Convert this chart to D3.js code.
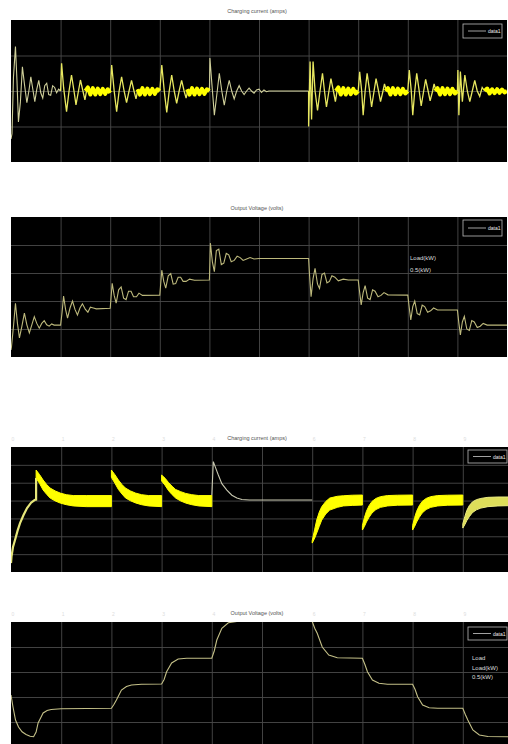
<!DOCTYPE html>
<html>
<head>
<meta charset="utf-8">
<script src="https://cdn.jsdelivr.net/npm/d3@7"></script>
<style>
body { margin: 0; background: #fff; }
svg { display: block; font-family: "Liberation Sans", Arial, sans-serif; }
</style>
</head>
<body>
<div id="frame"></div>
<script>
// ---- data (time in grid divisions, values in y grid divisions) ----
const xTicks = [1, 2, 3, 4, 5, 6, 7, 8, 9];
const topTickValues = [0, 1, 2, 3, 4, 6, 7, 8, 9];
const topTickLabels = ["0", "1", "2", "3", "4", "6", "7", "8", "9"];
const titles = ["Charging current (amps)", "Output Voltage (volts)", "Charging current (amps)", "Output Voltage (volts)"];
const legendLabel = "data1";
const notes2 = ["Load(kW)", "0.5(kW)"];
const notes4 = ["Load", "Load(kW)", "0.5(kW)"];

// panel 1: charging current, ringing parts (pale)
const p1RingPale = [
  [[0, -1.35], [0.02, -1.2], [0.05, 0.4], [0.09, 1.25], [0.12, 0.3], [0.15, -0.87], [0.19, -0.3], [0.23, 0.68], [0.27, 0.2],
   [0.32, -0.33], [0.36, 0.0], [0.4, 0.4], [0.44, 0.05], [0.48, -0.3], [0.52, 0.05], [0.56, 0.3], [0.6, -0.05], [0.64, -0.2],
   [0.68, 0.15], [0.72, 0.22], [0.76, -0.1], [0.8, -0.12], [0.84, 0.15], [0.88, 0.1], [0.92, -0.05], [0.96, 0.05], [1.0, 0.0]],
  [[4.0, 0.0], [4.01, 0.93], [4.05, 0.2], [4.1, -0.68], [4.15, -0.1], [4.2, 0.5], [4.25, 0.0], [4.3, -0.4], [4.35, 0.0],
   [4.4, 0.3], [4.45, 0.0], [4.5, -0.22], [4.55, 0.0], [4.6, 0.15], [4.65, 0.0], [4.7, -0.1], [4.75, 0.0], [4.8, 0.08],
   [4.85, 0.0], [4.9, -0.06], [4.95, 0.03], [5.0, 0.05], [5.05, -0.04], [5.1, 0.03], [5.15, -0.02], [5.2, 0.0], [6.0, 0.0]]
];
// panel 1: ringing parts (yellow)
const p1Ring = [
  [[1.0, 0.0], [1.02, 0.78], [1.06, 0.1], [1.12, -0.58], [1.17, 0.0], [1.22, 0.45], [1.27, 0.0], [1.31, -0.39], [1.36, 0.0],
   [1.4, 0.31], [1.45, 0.0], [1.49, -0.25], [1.53, 0.05]],
  [[2.0, -0.05], [2.03, 0.73], [2.08, 0.0], [2.13, -0.58], [2.18, 0.0], [2.23, 0.4], [2.28, 0.0], [2.33, -0.33], [2.38, 0.0],
   [2.43, 0.3], [2.48, 0.0], [2.52, -0.22], [2.56, 0.05]],
  [[3.0, 0.0], [3.04, 0.73], [3.09, 0.0], [3.14, -0.6], [3.19, 0.0], [3.24, 0.45], [3.29, 0.0], [3.34, -0.35], [3.39, 0.0],
   [3.44, 0.3], [3.49, 0.0], [3.53, -0.2], [3.57, 0.05]],
  [[6.0, 0.0], [6.0, -1.0], [6.03, 0.83], [6.06, -0.8], [6.09, 0.83], [6.13, 0.0], [6.18, -0.55], [6.23, 0.0], [6.28, 0.5],
   [6.32, 0.0], [6.36, -0.45], [6.41, 0.0], [6.45, 0.35], [6.5, 0.0], [6.54, -0.3], [6.58, 0.05]],
  [[7.0, 0.0], [7.03, 0.54], [7.07, 0.0], [7.1, -0.68], [7.14, 0.0], [7.18, 0.5], [7.23, 0.0], [7.27, -0.45], [7.32, 0.0],
   [7.36, 0.35], [7.41, 0.0], [7.45, -0.3], [7.5, 0.0], [7.53, 0.2], [7.57, 0.0]],
  [[8.0, 0.0], [8.03, 0.59], [8.07, 0.0], [8.1, -0.68], [8.14, 0.0], [8.18, 0.5], [8.23, 0.0], [8.27, -0.42], [8.32, 0.0],
   [8.36, 0.33], [8.41, 0.0], [8.45, -0.28], [8.5, 0.0], [8.53, 0.2], [8.57, 0.0]],
  [[9.0, 0.0], [9.01, 0.59], [9.03, -0.68], [9.06, 0.55], [9.1, -0.3], [9.15, 0.45], [9.2, 0.0], [9.25, -0.3], [9.3, 0.0],
   [9.35, 0.3], [9.4, 0.0], [9.45, -0.15], [9.5, 0.1], [9.55, 0.0]]
];
// panel 1: steady ripple bands (thick)
const p1Bands = [
  [[1.5, 0.0], [1.55, 0.1], [1.6, -0.1], [1.65, 0.08], [1.7, -0.1], [1.75, 0.07], [1.8, -0.09], [1.85, 0.06], [1.9, -0.08], [1.95, 0.05], [2.0, -0.05]],
  [[2.55, 0.05], [2.6, -0.1], [2.65, 0.08], [2.7, -0.1], [2.75, 0.07], [2.8, -0.09], [2.85, 0.06], [2.9, -0.08], [2.95, 0.05], [3.0, 0.0]],
  [[3.55, 0.05], [3.6, -0.1], [3.65, 0.08], [3.7, -0.1], [3.75, 0.07], [3.8, -0.09], [3.85, 0.06], [3.9, -0.08], [3.95, 0.05], [4.0, 0.0]],
  [[6.55, 0.0], [6.6, 0.1], [6.65, -0.1], [6.7, 0.08], [6.75, -0.1], [6.8, 0.07], [6.85, -0.09], [6.9, 0.06], [6.95, -0.07], [7.0, 0.0]],
  [[7.55, 0.0], [7.6, 0.08], [7.65, -0.1], [7.7, 0.08], [7.75, -0.09], [7.8, 0.07], [7.85, -0.09], [7.9, 0.06], [7.95, -0.07], [8.0, 0.0]],
  [[8.55, 0.0], [8.6, 0.08], [8.65, -0.1], [8.7, 0.08], [8.75, -0.09], [8.8, 0.07], [8.85, -0.09], [8.9, 0.06], [8.95, -0.07], [9.0, 0.0]],
  [[9.55, 0.0], [9.6, 0.07], [9.65, -0.07], [9.7, 0.05], [9.75, -0.06], [9.8, 0.05], [9.85, -0.05], [9.9, 0.04], [9.95, -0.04], [10.0, 0.0]]
];

// panel 2: output voltage
const p2Line = [
  [0, 0.25], [0.01, 0.37], [0.05, 1.1], [0.09, 1.92], [0.13, 1.2], [0.17, 0.68], [0.22, 1.1], [0.27, 1.57], [0.32, 1.15],
  [0.37, 0.86], [0.42, 1.15], [0.47, 1.44], [0.52, 1.2], [0.57, 1.03], [0.62, 1.2], [0.67, 1.3], [0.72, 1.15], [0.77, 1.1],
  [0.82, 1.18], [0.87, 1.14], [1.0, 1.14],
  [1.03, 1.6], [1.06, 2.18], [1.1, 1.7], [1.14, 1.39], [1.19, 1.75], [1.24, 2.0], [1.29, 1.7], [1.34, 1.5], [1.39, 1.75],
  [1.44, 1.9], [1.5, 1.7], [1.55, 1.6], [1.6, 1.78], [1.66, 1.75], [1.72, 1.72], [2.0, 1.74],
  [2.04, 2.63], [2.08, 2.2], [2.12, 1.92], [2.17, 2.4], [2.22, 2.5], [2.27, 2.1], [2.32, 2.05], [2.37, 2.35], [2.42, 2.35],
  [2.47, 2.15], [2.53, 2.15], [2.58, 2.28], [2.65, 2.2], [3.0, 2.21],
  [3.04, 3.1], [3.08, 2.7], [3.12, 2.46], [3.17, 2.9], [3.22, 2.98], [3.27, 2.6], [3.32, 2.62], [3.37, 2.85], [3.42, 2.85],
  [3.47, 2.7], [3.53, 2.7], [3.6, 2.78], [3.7, 2.74], [4.0, 2.75],
  [4.02, 4.07], [4.06, 3.4], [4.1, 3.05], [4.14, 3.8], [4.19, 3.85], [4.24, 3.3], [4.29, 3.35], [4.34, 3.7], [4.39, 3.65],
  [4.44, 3.4], [4.5, 3.45], [4.56, 3.6], [4.62, 3.55], [4.68, 3.45], [4.75, 3.5], [4.82, 3.55], [4.9, 3.5], [5.0, 3.52], [6.0, 3.52],
  [6.02, 2.9], [6.05, 2.15], [6.09, 2.8], [6.13, 3.17], [6.18, 2.6], [6.22, 2.45], [6.27, 2.95], [6.32, 3.0], [6.37, 2.65],
  [6.42, 2.7], [6.47, 2.9], [6.53, 2.85], [6.6, 2.72], [6.7, 2.78], [6.8, 2.75], [7.0, 2.75],
  [7.03, 2.3], [7.06, 1.86], [7.1, 2.3], [7.14, 2.55], [7.19, 2.1], [7.24, 2.05], [7.29, 2.4], [7.34, 2.35], [7.4, 2.15],
  [7.46, 2.2], [7.52, 2.3], [7.6, 2.22], [8.0, 2.21],
  [8.03, 1.75], [8.06, 1.32], [8.1, 1.8], [8.14, 2.0], [8.19, 1.55], [8.24, 1.5], [8.29, 1.85], [8.34, 1.8], [8.4, 1.6],
  [8.46, 1.65], [8.52, 1.75], [8.6, 1.68], [9.0, 1.68],
  [9.03, 1.2], [9.06, 0.79], [9.1, 1.25], [9.14, 1.45], [9.19, 1.0], [9.24, 0.95], [9.29, 1.3], [9.34, 1.25], [9.4, 1.05],
  [9.46, 1.1], [9.52, 1.2], [9.6, 1.14], [10.0, 1.14]
];

// panel 3: charging current, thin parts
const p3Rise = [[0, 0.5], [0.01, 0.86], [0.04, 1.4], [0.08, 1.79], [0.13, 2.3], [0.18, 2.74], [0.25, 3.19], [0.32, 3.58],
  [0.4, 3.88], [0.47, 4.03], [0.5, 4.05], [0.5, 5.26]];
const p3Decay = [[4.0, 4.28], [4.03, 6.18], [4.08, 5.8], [4.13, 5.43], [4.2, 4.95], [4.3, 4.59], [4.4, 4.3], [4.5, 4.14],
  [4.6, 4.06], [4.75, 4.03], [6.0, 4.03]];
// panel 3: ripple bands [t, low, high]
const p3Bands = [
  [[0.5, 5.26, 5.71], [0.57, 4.95, 5.45], [0.64, 4.59, 5.15], [0.71, 4.35, 4.9], [0.78, 4.14, 4.7], [0.88, 3.98, 4.54],
   [0.98, 3.86, 4.42], [1.1, 3.77, 4.33], [1.24, 3.7, 4.28], [1.5, 3.66, 4.28], [2.0, 3.66, 4.28]],
  [[2.0, 5.3, 5.71], [2.07, 4.97, 5.45], [2.14, 4.62, 5.15], [2.21, 4.37, 4.9], [2.28, 4.15, 4.7], [2.38, 3.99, 4.54],
   [2.48, 3.87, 4.42], [2.6, 3.77, 4.33], [2.74, 3.7, 4.28], [3.0, 3.66, 4.28]],
  [[3.0, 5.1, 5.43], [3.07, 4.85, 5.25], [3.14, 4.55, 5.0], [3.21, 4.33, 4.8], [3.28, 4.14, 4.62], [3.38, 3.98, 4.5],
   [3.48, 3.86, 4.4], [3.6, 3.77, 4.33], [3.74, 3.7, 4.28], [4.0, 3.66, 4.28]],
  [[6.0, 1.62, 1.75], [6.05, 1.9, 2.4], [6.09, 2.18, 2.91], [6.14, 2.55, 3.35], [6.19, 2.91, 3.66], [6.27, 3.25, 3.95],
   [6.35, 3.47, 4.14], [6.5, 3.62, 4.24], [6.62, 3.7, 4.27], [6.8, 3.73, 4.3], [7.0, 3.75, 4.31]],
  [[7.0, 2.35, 2.6], [7.04, 2.55, 3.05], [7.08, 2.8, 3.4], [7.13, 3.05, 3.7], [7.19, 3.3, 3.95], [7.27, 3.5, 4.12],
   [7.36, 3.62, 4.22], [7.5, 3.7, 4.28], [7.7, 3.74, 4.3], [8.0, 3.75, 4.31]],
  [[8.0, 2.35, 2.6], [8.04, 2.55, 3.05], [8.08, 2.8, 3.4], [8.13, 3.05, 3.7], [8.19, 3.3, 3.95], [8.27, 3.5, 4.12],
   [8.36, 3.62, 4.22], [8.5, 3.7, 4.28], [8.7, 3.74, 4.3], [9.0, 3.75, 4.31]]
];
const p3LastBand = [[9.0, 2.46, 2.7], [9.04, 2.65, 3.1], [9.08, 2.88, 3.45], [9.13, 3.1, 3.72], [9.19, 3.32, 3.92],
  [9.27, 3.48, 4.05], [9.36, 3.58, 4.12], [9.5, 3.66, 4.18], [9.7, 3.7, 4.2], [10.0, 3.72, 4.2]];

// panel 4: output voltage
const p4Line = [
  [0, 2.08], [0.04, 1.6], [0.09, 1.08], [0.15, 0.8], [0.22, 0.61], [0.3, 0.5], [0.38, 0.43], [0.45, 0.41], [0.5, 0.6],
  [0.54, 0.96], [0.6, 1.2], [0.64, 1.36], [0.72, 1.46], [0.8, 1.5], [1.0, 1.53], [2.0, 1.55],
  [2.05, 1.7], [2.1, 1.88], [2.2, 2.28], [2.3, 2.42], [2.4, 2.48], [2.6, 2.51], [3.0, 2.52],
  [3.05, 2.7], [3.1, 3.01], [3.2, 3.36], [3.33, 3.52], [3.5, 3.55], [4.0, 3.55],
  [4.05, 3.85], [4.1, 4.28], [4.2, 4.75], [4.33, 4.97], [4.5, 5.02], [6.0, 5.02],
  [6.05, 4.75], [6.1, 4.55], [6.2, 4.0], [6.33, 3.68], [6.5, 3.57], [7.0, 3.55],
  [7.05, 3.3], [7.1, 3.01], [7.2, 2.68], [7.33, 2.55], [7.5, 2.51], [8.0, 2.51],
  [8.05, 2.3], [8.1, 2.01], [8.2, 1.68], [8.33, 1.57], [8.5, 1.55], [9.0, 1.55],
  [9.05, 1.3], [9.1, 1.08], [9.2, 0.68], [9.33, 0.48], [9.5, 0.42], [10.0, 0.41]
];

// ---- layout ----
const width = 508, height = 744;
const panels = [
  {top: 20, bottom: 162, left: 11, right: 507, yDomain: [-2, 2], yTicks: [-1, 0, 1], titleY: 13, legend: [463, 24, 39, 14]},
  {top: 217, bottom: 357, left: 11, right: 507, yDomain: [0, 5], yTicks: [1, 2, 3, 4], titleY: 210, legend: [463, 220, 39, 16]},
  {top: 447, bottom: 572, left: 11, right: 513, yDomain: [0, 7], yTicks: [1, 2, 3, 4, 5, 6], titleY: 440, legend: [468, 450, 39, 13]},
  {top: 622, bottom: 747, left: 11, right: 513, yDomain: [0, 5], yTicks: [1, 2, 3, 4], titleY: 615, legend: [468, 627, 39, 13]}
];

let svg = d3.select("#frame")
        .append("svg")
        .attr("width", width)
        .attr("height", height);

svg.append("rect").attr("width", width).attr("height", height).attr("fill", "#fff");

function makePanel(i) {
    let p = panels[i];
    let x = d3.scaleLinear().domain([0, 10]).range([p.left, p.right]);
    let y = d3.scaleLinear().domain(p.yDomain).range([p.bottom, p.top]);

    svg.append("clipPath").attr("id", "clip" + i)
        .append("rect")
        .attr("x", p.left).attr("y", p.top)
        .attr("width", p.right - p.left).attr("height", p.bottom - p.top);

    svg.append("rect")
        .attr("x", p.left).attr("y", p.top)
        .attr("width", p.right - p.left).attr("height", p.bottom - p.top)
        .attr("fill", "#000");

    // grid through axes
    let gx = svg.append("g")
        .attr("transform", "translate(0," + p.bottom + ")")
        .call(d3.axisBottom(x).tickValues(xTicks).tickSize(-(p.bottom - p.top)).tickFormat(""));
    let gy = svg.append("g")
        .attr("transform", "translate(" + p.left + ",0)")
        .call(d3.axisLeft(y).tickValues(p.yTicks).tickSize(-(p.right - p.left)).tickFormat(""));
    [gx, gy].forEach(g => {
        g.select(".domain").remove();
        g.selectAll(".tick line").attr("stroke", "#4a4a4a").attr("stroke-width", 0.9);
    });

    svg.append("text")
        .attr("x", 257)
        .attr("y", p.titleY)
        .attr("text-anchor", "middle")
        .style("font-size", "5.5px")
        .attr("fill", "#555")
        .text(titles[i]);

    let plot = svg.append("g").attr("clip-path", "url(#clip" + i + ")");
    return {x, y, plot, p};
}

function drawLegend(p) {
    let [lx, ly, lw, lh] = p.legend;
    svg.append("rect")
        .attr("x", lx).attr("y", ly).attr("width", lw).attr("height", lh)
        .attr("fill", "#000").attr("stroke", "#bbb").attr("stroke-width", 0.8);
    svg.append("line")
        .attr("x1", lx + 5).attr("x2", lx + 23)
        .attr("y1", ly + lh / 2).attr("y2", ly + lh / 2)
        .attr("stroke", "#ccc").attr("stroke-width", 0.8);
    svg.append("text")
        .attr("x", lx + 25).attr("y", ly + lh / 2 + 2)
        .style("font-size", "5px").attr("fill", "#eee")
        .text(legendLabel);
}

// panel 1
let a = makePanel(0);
let line1 = d3.line().x(d => a.x(d[0])).y(d => a.y(d[1]));
a.plot.selectAll(".pale").data(p1RingPale).enter().append("path")
    .attr("d", line1).attr("fill", "none").attr("stroke", "#cfcf9a").attr("stroke-width", 1.1);
a.plot.selectAll(".ring").data(p1Ring).enter().append("path")
    .attr("d", line1).attr("fill", "none").attr("stroke", "#e8e860").attr("stroke-width", 1.3);
a.plot.selectAll(".band").data(p1Bands).enter().append("path")
    .attr("d", line1).attr("fill", "none").attr("stroke", "#ffff00").attr("stroke-width", 4)
    .attr("stroke-linejoin", "round");
drawLegend(a.p);

// panel 2
let b = makePanel(1);
let line2 = d3.line().x(d => b.x(d[0])).y(d => b.y(d[1]));
b.plot.append("path").datum(p2Line)
    .attr("d", line2).attr("fill", "none").attr("stroke", "#bdb97c").attr("stroke-width", 1.1);
drawLegend(b.p);
notes2.forEach((t, i) => {
    svg.append("text").attr("x", 410).attr("y", 260 + i * 12)
        .style("font-size", "6px").attr("fill", "#ddd").text(t);
});

// panel 3
let c = makePanel(2);
let line3 = d3.line().x(d => c.x(d[0])).y(d => c.y(d[1]));
let area3 = d3.area().x(d => c.x(d[0])).y0(d => c.y(d[1])).y1(d => c.y(d[2]));
c.plot.append("path").datum(p3Rise)
    .attr("d", line3).attr("fill", "none").attr("stroke", "#e6e67a").attr("stroke-width", 2.2);
c.plot.append("path").datum(p3Decay)
    .attr("d", line3).attr("fill", "none").attr("stroke", "#c8c8b0").attr("stroke-width", 1.1);
c.plot.selectAll(".band").data(p3Bands).enter().append("path")
    .attr("d", area3).attr("fill", "#ffff00").attr("stroke", "#ffff00").attr("stroke-width", 1);
c.plot.append("path").datum(p3LastBand)
    .attr("d", area3).attr("fill", "#dede5a").attr("stroke", "#ecec80").attr("stroke-width", 1);
drawLegend(c.p);

// panel 4
let e = makePanel(3);
let line4 = d3.line().x(d => e.x(d[0])).y(d => e.y(d[1]));
e.plot.append("path").datum(p4Line)
    .attr("d", line4).attr("fill", "none").attr("stroke", "#c4c088").attr("stroke-width", 1.1);
drawLegend(e.p);
notes4.forEach((t, i) => {
    svg.append("text").attr("x", 472).attr("y", 660 + i * 9.5)
        .style("font-size", "6px").attr("fill", "#ddd").text(t);
});

// faint tick labels above the lower panels
[c, e].forEach(q => {
    svg.selectAll(null).data(topTickLabels).enter().append("text")
        .attr("x", (d, i) => q.x(topTickValues[i]) + 2)
        .attr("y", q.p.top - 6)
        .attr("text-anchor", "middle")
        .style("font-size", "5px")
        .attr("fill", "#ddd")
        .text(d => d);
});
</script>
</body>
</html>
